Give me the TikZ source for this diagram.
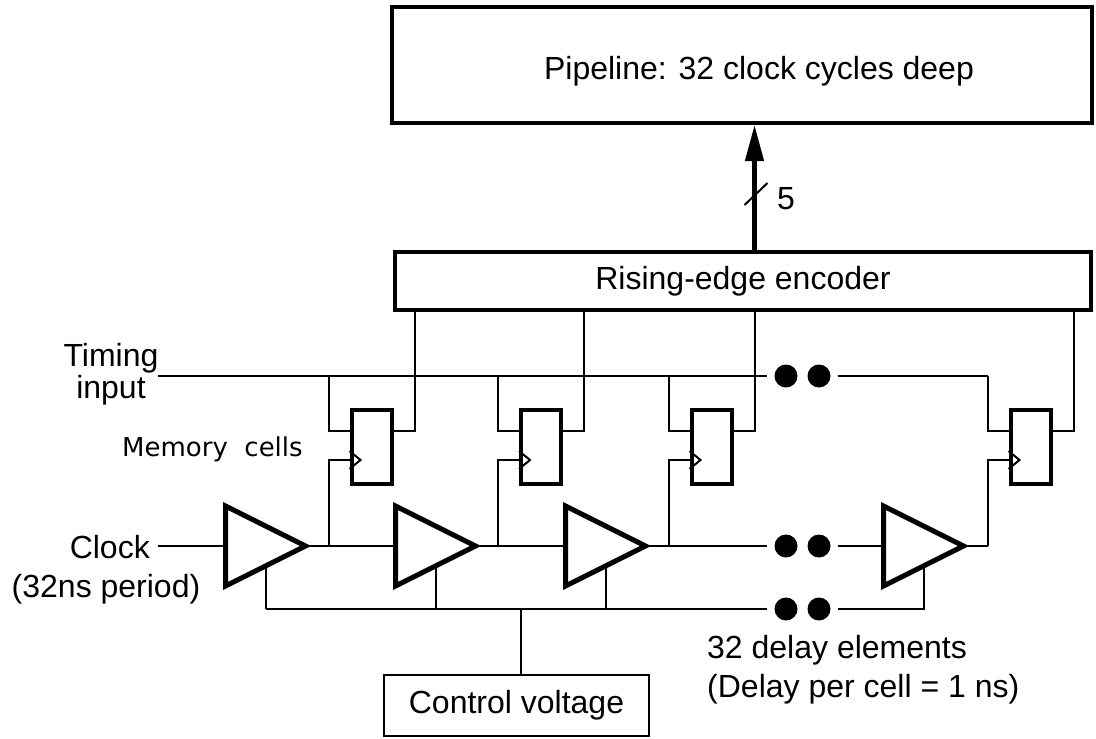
\documentclass[tikz,border=0pt]{standalone}
\usepackage{fontspec}
\setmainfont{Liberation Sans}
\newfontfamily\cellfont{DejaVu Sans}
\usetikzlibrary{positioning,calc,shapes.geometric,arrows.meta}
\tikzset{main wire/.style={line width=2pt}, }
\tikzset{main bus/.style={line width=4.5pt,-{Triangle[length=36pt,width=18pt]}}, }
\tikzset{main box/.style={rectangle,draw,line width=4pt,inner sep=0pt,text centered,
    font=\fontsize{32}{36}\selectfont}, }
\tikzset{mem cell/.style={rectangle,draw,line width=4pt,minimum width=40pt,minimum height=74pt}, }
\tikzset{buf/.style={draw,line width=5pt,isosceles triangle,isosceles triangle stretches,
    inner sep=0pt,outer sep=0pt,minimum width=80pt,minimum height=80pt}, }
\tikzset{dot/.style={circle,fill,inner sep=0pt,minimum size=23pt}, }
\tikzset{lbl/.style={inner sep=0pt,font=\fontsize{32}{36}\selectfont}, }

\begin{document}
\begin{tikzpicture}[x=1pt,y=-1pt]
  \useasboundingbox (0,0) rectangle (1096,739);
  % boxes
  \node[main box,minimum width=700pt,minimum height=116pt] (pipe) at (742,65) {};
  \node[lbl] (pipetxt) at (759,71) {Pipeline: 32 clock cycles deep};
  \node[main box,minimum width=696pt,minimum height=58pt] (enc) at (743,281) {Rising-edge encoder};
  \node[main box,line width=2pt,minimum width=265pt,minimum height=61pt] (cv) at (516.5,705.5) {Control voltage};
  % cells and buffers
  \foreach \i/\x in {1/371.5,2/541,3/711.5,4/1030.5}
    \node[mem cell] (c\i) at (\x,447) {};
  \foreach \i/\x in {1/225.5,2/395.5,3/565.5,4/883.5}
    \node[buf,anchor=lower side] (b\i) at (\x,546) {};
  \foreach \n/\y in {t/376,c/546,k/609}{
    \node[dot] (d\n1) at (786,\y) {};
    \node[dot] (d\n2) at (819,\y) {};
  }
  % labels
  \node[lbl,anchor=base] (tim1) at (111,366) {Timing};
  \node[lbl,anchor=base] (tim2) at (111,398) {input};
  \node[inner sep=0pt,anchor=base west,font=\cellfont\fontsize{26}{30}\selectfont] (mem) at (122,456) {Memory\ \ cells};
  \node[lbl,anchor=base east] (clk) at (150,558) {Clock};
  \node[lbl,anchor=base] (per) at (106,597) {(32ns period)};
  \node[lbl,anchor=base west] (del1) at (707,658) {32 delay elements};
  \node[lbl,anchor=base west] (del2) at (707,697) {(Delay per cell = 1 ns)};
  \coordinate (tin) at (158,376);
  \coordinate (cin) at (158,546);
  \coordinate (cvtop) at ($(cv.north)+(4,0)$);
  \foreach \i in {1,2,3,4}{
    \coordinate (tap\i) at ($(c\i.west)+(-21,0)$);
    \coordinate (q\i) at ($(c\i.east)+(21,0)$);
    \coordinate (k\i) at ($(b\i.apex)!0.5!(b\i.right corner)$);
  }
  % timing input
  \draw[main wire] (tin) -- ($(dt1.west)+(-7,0)$);
  \draw[main wire] ($(dt2.east)+(7,0)$) -- (tap4 |- tin);
  \foreach \i in {1,2,3,4}{
    \draw[main wire] (tap\i |- tin) |- ($(c\i.west)+(0,-16)$);
    \draw[main wire] (tap\i |- b1.apex) |- ($(c\i.west)+(0,13)$);
    \draw[main wire] ($(c\i.east)+(0,-16)$) -| (q\i |- enc.south);
    \draw[main wire] ($(c\i.west)+(0,4)$) -- ($(c\i.west)+(11,13)$) -- ($(c\i.west)+(0,22)$);
  }
  % clock chain
  \draw[main wire] (cin) -- (b1.lower side);
  \foreach \x/\y in {1/2,2/3}
    \draw[main wire] (b\x.apex) -- (b\y.lower side);
  \draw[main wire] (b3.apex) -- ($(dc1.west)+(-7,0)$);
  \draw[main wire] ($(dc2.east)+(7,0)$) -- (b4.lower side);
  \draw[main wire] (b4.apex) -- (tap4 |- b4.apex);
  % control voltage
  \foreach \i in {1,2,3}
    \draw[main wire] (k\i) -- (k\i |- dk1);
  \draw[main wire] (k1 |- dk1) -- ($(dk1.west)+(-7,0)$);
  \draw[main wire] ($(dk2.east)+(7,0)$) -| (k4);
  \draw[main wire] (cvtop) -- (cvtop |- dk1);
  % output bus
  \draw[main bus] (q3 |- enc.north) -- (q3 |- pipe.south);
  \draw[main wire] ($(q3 |- enc.north)+(-10,-45)$) -- ($(q3 |- enc.north)+(13,-67)$);
  \node[lbl,anchor=base west] (five) at (777,209) {5};
\end{tikzpicture}
\end{document}
